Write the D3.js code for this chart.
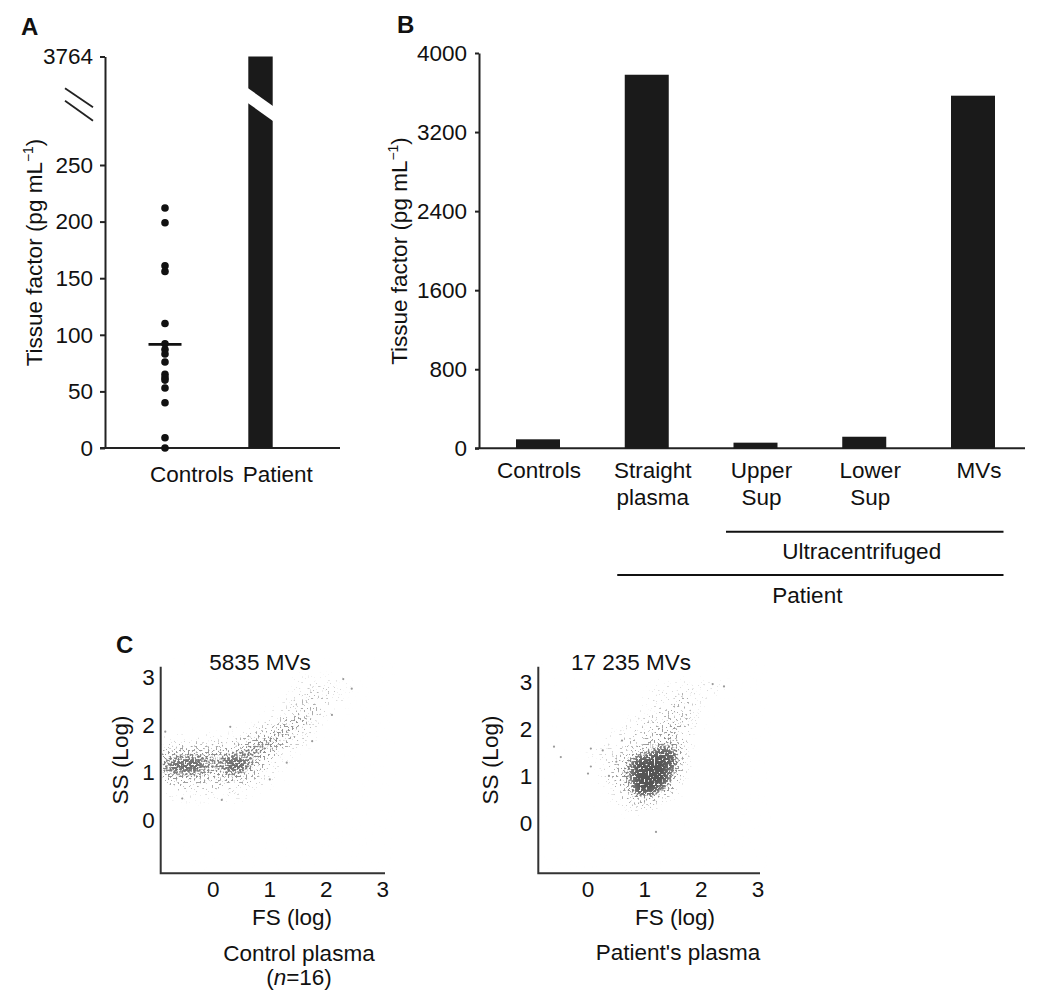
<!DOCTYPE html>
<html><head><meta charset="utf-8">
<script src="https://cdn.jsdelivr.net/npm/d3@7"></script>
<style>
body{margin:0;background:#fff}
svg text{font-family:"Liberation Sans",Arial,Helvetica,sans-serif;fill:#111}
</style></head><body>
<svg id="c" width="1050" height="1007"></svg>
<script>
// ---------------- DATA ----------------
// Panel A
const aCategories = ["Controls", "Patient"];
const aControls = [212, 199, 161, 156, 110, 92, 87, 83, 76, 65, 62, 60, 53, 40, 9, 0];
const aPatient = 3764;
const aTicks = [0, 50, 100, 150, 200, 250, 3764];

// Panel B
const bCategories = ["Controls", "Straight plasma", "Upper Sup", "Lower Sup", "MVs"];
const bLabelLines = [["Controls"], ["Straight", "plasma"], ["Upper", "Sup"], ["Lower", "Sup"], ["MVs"]];
const bValues = [91, 3780, 57, 117, 3568];
const bTicks = [0, 800, 1600, 2400, 3200, 4000];
const bGroups = [
  {label: "Ultracentrifuged", from: "Upper Sup", to: "MVs"},
  {label: "Patient", from: "Straight plasma", to: "MVs"}
];

// Panel C
const cTitles = ["5835 MVs", "17 235 MVs"];
const cTicks = [0, 1, 2, 3];
// density grids: rows = SS bins (top row centre 2.9, step 0.2),
// columns = FS bins (first centre -0.9, step 0.2), digit = relative event density 0-9
const gridFirstX = -0.9, gridTopY = 2.9, gridStep = 0.2;
const controlGrid = [
  "000000000000111110",
  "000000000000122210",
  "000000000001222110",
  "000000000011232100",
  "000000000113431000",
  "000000011245420000",
  "111111124564210000",
  "233333456642100000",
  "567766776421000000",
  "688866885310000000",
  "355544543110000000",
  "122222221100000000",
  "011111110000000000"
];
const patientGrid = [
  "000000000001111110",
  "000000000011121100",
  "000000000011221000",
  "000000000112221000",
  "000000001122321000",
  "000000011223320000",
  "000000112234420000",
  "000001112357620000",
  "000000124899710000",
  "000000125999510000",
  "000000134999400000",
  "000000013885200000",
  "000000012331000000",
  "000000001110000000"
];
// isolated events [FS, SS]
const controlSparse = [[-0.55,0.45],[0.15,0.42],[1.0,0.85],[1.3,1.2],[2.45,2.75],[2.3,2.95],[-0.85,1.85],
  [0.3,1.95],[1.75,1.65],[2.1,2.2]];
const patientSparse = [[-0.6,1.62],[-0.48,1.4],[0.05,1.58],[0.26,1.54],[0.37,1.0],[0.05,1.2],[0.5,1.3],
  [1.2,-0.19],[2.4,2.9],[2.2,2.95],[0.0,1.05],[0.6,1.75]];

// ---------------- DRAW ----------------
const svg = d3.select("#c");
const FS = 22.5;
const INK = "#1a1a1a";

function rotTitle(g, x, y, size) {
  const t = g.append("text").attr("transform", `translate(${x},${y}) rotate(-90)`)
    .attr("text-anchor", "middle").attr("font-size", size);
  t.append("tspan").text("Tissue factor (pg mL");
  t.append("tspan").attr("font-size", size * 0.62).attr("dy", -size * 0.4).text("\u22121");
  t.append("tspan").attr("dy", size * 0.4).text(")");
}

// ===== Panel A =====
{
  const g = svg.append("g");
  const xA = d3.scalePoint().domain(aCategories).range([165, 260.5]);
  const yA = d3.scaleLinear().domain([0, 250, 3764]).range([448, 165, 56.5]);
  const ax = g.append("g").attr("transform", "translate(105,0)")
    .call(d3.axisLeft(yA).tickValues(aTicks).tickFormat(d3.format("d")).tickSize(5).tickSizeOuter(0).tickPadding(7));
  ax.selectAll("path,line").attr("stroke", "#222").attr("stroke-width", 2);
  ax.selectAll("text").attr("font-size", FS).attr("font-family", "Liberation Sans, Arial, sans-serif").attr("fill", "#111");
  g.append("line").attr("x1", 100).attr("x2", 340).attr("y1", yA(0)).attr("y2", yA(0))
    .attr("stroke", "#222").attr("stroke-width", 2);

  const bw = 24.4;
  const bx = xA("Patient") - bw / 2;
  g.append("rect").attr("x", bx).attr("y", yA(aPatient)).attr("width", bw)
    .attr("height", yA(0) - yA(aPatient)).attr("fill", INK);
  const yc = yA(aPatient) + 0.45 * (yA(250) - yA(aPatient));
  const sl = 20 / 28;
  const x0 = bx - 2, x1 = bx + bw + 2;
  g.append("polygon").attr("fill", "#fff").attr("points", [
    [x0, yc - 17 - 2 * sl], [x1, yc - 17 + (bw + 2) * sl], [x1, yc - 2 + (bw + 2) * sl], [x0, yc - 2 - 2 * sl]
  ].map(p => p.join(",")).join(" "));
  [[-17, 2], [-4.5, 15.5]].forEach(([a, b]) => {
    g.append("line").attr("x1", 65).attr("x2", 93).attr("y1", yc + a).attr("y2", yc + b)
      .attr("stroke", "#222").attr("stroke-width", 1.8);
  });

  g.selectAll("circle.dot").data(aControls).join("circle").attr("class", "dot")
    .attr("cx", xA("Controls")).attr("cy", d => yA(d)).attr("r", 3.8).attr("fill", "#111");
  const m = d3.mean(aControls);
  g.append("line").attr("x1", xA("Controls") - 16.5).attr("x2", xA("Controls") + 16.5)
    .attr("y1", yA(m)).attr("y2", yA(m)).attr("stroke", "#111").attr("stroke-width", 2.6);

  const gap = (xA("Controls") + xA("Patient")) / 2 + 25.5;
  g.append("text").attr("x", gap - 4.5).attr("y", 482).attr("text-anchor", "end").attr("font-size", FS).text(aCategories[0]);
  g.append("text").attr("x", gap + 4.5).attr("y", 482).attr("text-anchor", "start").attr("font-size", FS).text(aCategories[1]);

  rotTitle(g, 41.5, 252.5, FS);
  g.append("text").attr("x", 21).attr("y", 35).attr("font-size", 24).attr("font-weight", "bold").text("A");
}

// ===== Panel B =====
{
  const g = svg.append("g");
  const xB = d3.scaleBand().domain(bCategories).range([516, 995]).paddingInner(0.5954).paddingOuter(0);
  const yB = d3.scaleLinear().domain([0, 4000]).range([448.3, 53]);
  const ax = g.append("g").attr("transform", "translate(479,0)")
    .call(d3.axisLeft(yB).tickValues(bTicks).tickFormat(d3.format("d")).tickSize(4).tickSizeOuter(0).tickPadding(8));
  ax.selectAll("path,line").attr("stroke", "#222").attr("stroke-width", 2);
  ax.selectAll("text").attr("font-size", FS).attr("font-family", "Liberation Sans, Arial, sans-serif").attr("fill", "#111");
  g.append("line").attr("x1", 475).attr("x2", 1025).attr("y1", yB(0)).attr("y2", yB(0))
    .attr("stroke", "#222").attr("stroke-width", 2);

  g.selectAll("rect.bar").data(bValues).join("rect").attr("class", "bar")
    .attr("x", (d, i) => xB(bCategories[i])).attr("width", xB.bandwidth())
    .attr("y", d => yB(d)).attr("height", d => yB(0) - yB(d)).attr("fill", INK);

  bLabelLines.forEach((lines, i) => {
    const cx = xB(bCategories[i]) + xB.bandwidth() / 2 + (i === 0 ? 1 : 6);
    lines.forEach((s, j) => {
      g.append("text").attr("x", cx).attr("y", 478 + j * 26.5).attr("text-anchor", "middle")
        .attr("font-size", FS).text(s);
    });
  });

  const gy = [531.7, 575];
  bGroups.forEach((grp, i) => {
    const xs = xB(grp.from) - 7.5;
    const xe = xB(grp.to) + xB.bandwidth() + 8.5;
    g.append("line").attr("x1", xs).attr("x2", xe).attr("y1", gy[i]).attr("y2", gy[i])
      .attr("stroke", "#111").attr("stroke-width", 2);
    g.append("text").attr("x", (xs + xe) / 2 - 3).attr("y", gy[i] + 27.5).attr("text-anchor", "middle")
      .attr("font-size", FS).text(grp.label);
  });

  rotTitle(g, 407, 251, FS);
  g.append("text").attr("x", 397).attr("y", 32.5).attr("font-size", 24).attr("font-weight", "bold").text("B");
}

// ===== Panel C =====
const defs = svg.append("defs");
const flt = defs.append("filter").attr("id", "speckle").attr("filterUnits", "userSpaceOnUse")
  .attr("x", 0).attr("y", 600).attr("width", 1050).attr("height", 350)
  .attr("color-interpolation-filters", "sRGB");
flt.append("feGaussianBlur").attr("in", "SourceGraphic").attr("stdDeviation", 4).attr("result", "blur");
flt.append("feTurbulence").attr("type", "fractalNoise").attr("baseFrequency", 0.5)
  .attr("numOctaves", 1).attr("seed", 4).attr("result", "noise");
flt.append("feColorMatrix").attr("in", "noise").attr("type", "matrix")
  .attr("values", "0 0 0 0 0  0 0 0 0 0  0 0 0 0 0  2.2 0 0 0 -0.6").attr("result", "mask");
flt.append("feComposite").attr("in", "blur").attr("in2", "mask").attr("operator", "arithmetic")
  .attr("k1", 0).attr("k2", 0.5).attr("k3", 0.5).attr("k4", 0).attr("result", "sum");
flt.append("feColorMatrix").attr("in", "sum").attr("type", "matrix")
  .attr("values", "0 0 0 0 0.33  0 0 0 0 0.33  0 0 0 0 0.33  0 0 0 10 -5").attr("result", "thr");
flt.append("feComposite").attr("in", "thr").attr("in2", "blur").attr("operator", "arithmetic")
  .attr("k1", 0.7).attr("k2", 0.32).attr("k3", 0).attr("k4", 0);

const cPanels = [
  {title: cTitles[0], grid: controlGrid, sparse: controlSparse, op: 0.1,
   xr: [213.3, 382.8], yr: [820, 676.7], left: 160.7, right: 385, top: 666.7, bottom: 873.3,
   titleX: 260, fsX: 292, ssX: 128, capX: 299, caption: "control"},
  {title: cTitles[1], grid: patientGrid, sparse: patientSparse, op: 0.125,
   xr: [588, 758], yr: [823, 681.7], left: 538.3, right: 760, top: 666.7, bottom: 873.3,
   titleX: 631, fsX: 675, ssX: 498, capX: 678, caption: "patient"}
];

cPanels.forEach((p, k) => {
  const g = svg.append("g");
  const x = d3.scaleLinear().domain([0, 3]).range(p.xr);
  const y = d3.scaleLinear().domain([0, 3]).range(p.yr);
  const clipId = "clip" + k;
  defs.append("clipPath").attr("id", clipId).append("rect")
    .attr("x", p.left + 1).attr("y", p.top - 10).attr("width", p.right - p.left + 10).attr("height", p.bottom - p.top + 9);

  const cloud = g.append("g").attr("clip-path", `url(#${clipId})`).append("g").attr("filter", "url(#speckle)");
  const cells = [];
  p.grid.forEach((row, r) => {
    row.split("").forEach((ch, c) => {
      const d = +ch;
      if (d > 0) cells.push({fs: gridFirstX + c * gridStep, ss: gridTopY - r * gridStep, d});
    });
  });
  cloud.selectAll("rect").data(cells).join("rect")
    .attr("x", d => x(d.fs - gridStep / 2)).attr("width", x(gridStep) - x(0))
    .attr("y", d => y(d.ss + gridStep / 2)).attr("height", y(0) - y(gridStep))
    .attr("fill", "#fff").attr("opacity", d => Math.min(1, d.d * p.op));

  g.append("g").selectAll("circle").data(p.sparse).join("circle")
    .attr("cx", d => x(d[0])).attr("cy", d => y(d[1])).attr("r", 1.1).attr("fill", "#9a9a9a");

  g.append("path").attr("d", `M${p.left},${p.top}V${p.bottom}H${p.right}`)
    .attr("fill", "none").attr("stroke", "#333").attr("stroke-width", 2);
  g.selectAll("text.yt").data(cTicks).join("text").attr("class", "yt")
    .attr("x", p.left - 6).attr("y", d => y(d)).attr("dy", "0.36em").attr("text-anchor", "end")
    .attr("font-size", FS).text(d => d);
  g.selectAll("text.xt").data(cTicks).join("text").attr("class", "xt")
    .attr("x", d => x(d)).attr("y", 897).attr("text-anchor", "middle")
    .attr("font-size", FS).text(d => d);

  g.append("text").attr("x", p.titleX).attr("y", 670).attr("text-anchor", "middle").attr("font-size", FS).text(p.title);
  g.append("text").attr("x", p.fsX).attr("y", 925).attr("text-anchor", "middle").attr("font-size", FS).text("FS (log)");
  g.append("text").attr("transform", `translate(${p.ssX},760) rotate(-90)`).attr("text-anchor", "middle")
    .attr("font-size", FS).text("SS (Log)");
  if (p.caption === "control") {
    g.append("text").attr("x", p.capX).attr("y", 961).attr("text-anchor", "middle").attr("font-size", FS).text("Control plasma");
    const t = g.append("text").attr("x", p.capX).attr("y", 985).attr("text-anchor", "middle").attr("font-size", FS);
    t.append("tspan").text("(");
    t.append("tspan").attr("font-style", "italic").text("n");
    t.append("tspan").text("=16)");
  } else {
    g.append("text").attr("x", p.capX).attr("y", 960).attr("text-anchor", "middle").attr("font-size", FS).text("Patient's plasma");
  }
});
svg.append("text").attr("x", 116).attr("y", 653).attr("font-size", 24).attr("font-weight", "bold").text("C");
</script>
</body></html>
